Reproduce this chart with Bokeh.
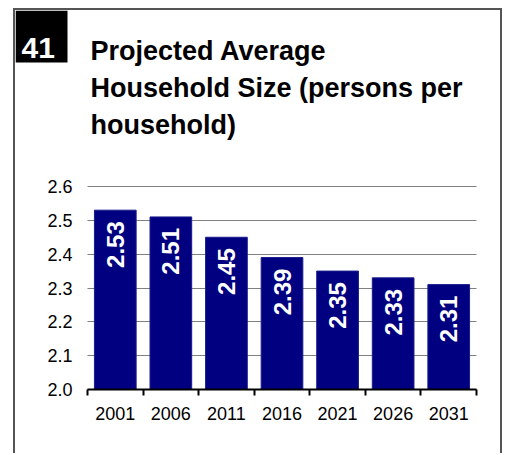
import math
from bokeh.plotting import figure
from bokeh.models import ColumnDataSource, Range1d, FixedTicker, LinearAxis
from bokeh.core.properties import value
from bokeh.embed import file_html
from bokeh.resources import INLINE

# ---- data ----
years = ["2001", "2006", "2011", "2016", "2021", "2026", "2031"]
sizes = [2.53, 2.51, 2.45, 2.39, 2.35, 2.33, 2.31]
y_ticks = [2.0, 2.1, 2.2, 2.3, 2.4, 2.5, 2.6]
title_lines = ["Projected Average", "Household Size (persons per", "household)"]
chart_number = "41"

FONT = "Liberation Sans"

# ---- layout (canvas pixels) ----
W, H = 489, 445
PL, PR, PT, PB = 72, 461, 176, 379      # plot area: left, right, top (2.6), bottom (2.0)
n = len(years)
y0, y1 = y_ticks[0], y_ticks[-1]
ppx = (PR - PL) / n
ppy = (PB - PT) / (y1 - y0)
x_range = Range1d(-PL / ppx, n + (W - PR) / ppx)
y_range = Range1d(y0 - (H - PB) / ppy, y1 + PT / ppy)


def px2x(px):
    return (px - PL) / ppx


def py2y(py):
    return y1 + (PT - py) / ppy


p = figure(width=W, height=H, output_backend="svg", toolbar_location=None,
           x_range=x_range, y_range=y_range, min_border=0,
           x_axis_location=None, y_axis_location=None,
           outline_line_color=None, background_fill_color="white",
           border_fill_color="white")
p.styles = {"margin-left": "13px", "margin-top": "8px",
            "border-left": "2px solid #555555",
            "border-top": "2px solid #555555", "border-right": "2px solid #555555"}

# ---- header: number box + title ----
p.quad(left=[px2x(0)], right=[px2x(52)], top=[py2y(0)], bottom=[py2y(52)],
       fill_color="black", line_color=None)
p.text(x=[px2x(6)], y=[py2y(37)], text=[chart_number], text_font=value(FONT),
       text_font_style="bold", text_font_size="30px", text_color="white",
       text_baseline="alphabetic", text_align="left")
p.text(x=[px2x(75)] * len(title_lines),
       y=[py2y(40 + 37 * i) for i in range(len(title_lines))],
       text=title_lines, text_font=value(FONT), text_font_style="bold",
       text_font_size="27px", text_color="black",
       text_baseline="alphabetic", text_align="left")

# ---- bars ----
pos = [i + 0.5 for i in range(n)]
src = ColumnDataSource(dict(x=pos, top=sizes, year=years,
                            lab=["%.2f" % v for v in sizes]))

p.vbar(x="x", top="top", bottom=y0, width=0.75, source=src,
       fill_color="#000080", line_color="#1a1a8c", line_width=1)

p.text(x="x", y="top", text="lab", source=src, angle=math.pi / 2,
       text_align="right", text_baseline="middle", y_offset=11,
       text_color="white", text_font=value(FONT), text_font_style="bold",
       text_font_size="24px")

# ---- axes ----
xaxis = LinearAxis(ticker=FixedTicker(ticks=pos, minor_ticks=list(range(n + 1))),
                   major_label_overrides={x: y for x, y in zip(pos, years)},
                   fixed_location=y0, bounds=(0, n))
xaxis.axis_line_color = "black"
xaxis.axis_line_width = 2
xaxis.major_tick_line_color = None
xaxis.major_tick_out = 0
xaxis.major_tick_in = 0
xaxis.minor_tick_line_color = "black"
xaxis.minor_tick_line_width = 2
xaxis.minor_tick_out = 6
xaxis.minor_tick_in = 0
xaxis.major_label_standoff = 11
xaxis.major_label_text_font = FONT
xaxis.major_label_text_font_size = "18px"
xaxis.major_label_text_color = "black"
p.add_layout(xaxis, "below")

yaxis = LinearAxis(ticker=FixedTicker(ticks=y_ticks),
                   major_label_overrides={t: "%.1f" % t for t in y_ticks},
                   fixed_location=0, bounds=(y0, y1))
yaxis.axis_line_color = None
yaxis.major_tick_line_color = None
yaxis.minor_tick_line_color = None
yaxis.major_tick_out = 0
yaxis.major_tick_in = 0
yaxis.major_label_standoff = 15
yaxis.major_label_text_font = FONT
yaxis.major_label_text_font_size = "18px"
yaxis.major_label_text_color = "black"
p.add_layout(yaxis, "left")

p.xgrid.visible = False
p.ygrid.ticker = FixedTicker(ticks=y_ticks)
p.ygrid.bounds = (y0, y1)
p.ygrid.cross_bounds = (0, n)
p.ygrid.grid_line_color = "#808080"
p.ygrid.grid_line_width = 1
p.ygrid.level = "underlay"

open("out.html", "w").write(file_html(p, INLINE))
